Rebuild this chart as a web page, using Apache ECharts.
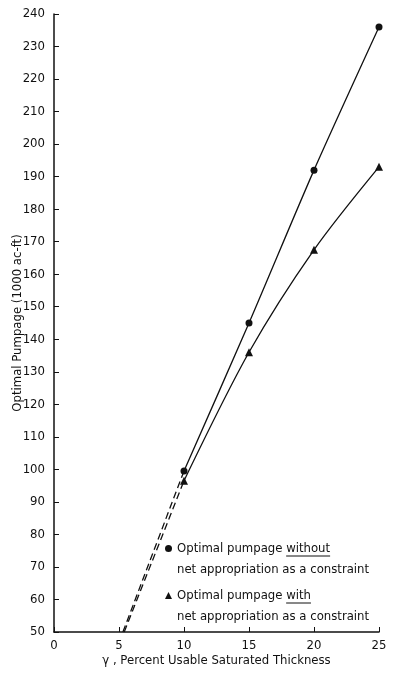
<!DOCTYPE html>
<html>
<head>
<meta charset="utf-8">
<script src="https://cdn.jsdelivr.net/npm/echarts@6/dist/echarts.min.js"></script>
<style>
html,body{margin:0;padding:0;background:#fff;}
#c{width:400px;height:676px;}
</style>
</head>
<body>
<div id="c"></div>
<script>
// ---- data ----
var xTicks = [0, 5, 10, 15, 20, 25];
var yTicks = [50, 60, 70, 80, 90, 100, 110, 120, 130, 140, 150, 160, 170, 180, 190, 200, 210, 220, 230, 240];
var gammaX = [10, 15, 20, 25];
var pumpWithout = [99.5, 145, 192, 236];
var pumpWith = [96.5, 136, 167.5, 193];
var extWithoutX = [5.3, 10];
var extWithoutY = [50, 99.5];
var extWithX = [5.4, 10];
var extWithY = [50, 96.5];
var nameWithout = 'Optimal pumpage without\nnet appropriation as a constraint';
var nameWith = 'Optimal pumpage with\nnet appropriation as a constraint';

var FONT = '"DejaVu Sans Condensed", sans-serif';
var FS = 13;
function pairs(xs, ys) { return xs.map(function (x, i) { return [x, ys[i]]; }); }

var chart = echarts.init(document.getElementById('c'), null, {renderer: 'canvas'});

// measure text for underlines
var cv = document.createElement('canvas').getContext('2d');
cv.font = FS + 'px ' + FONT;
var legLeft = 165, textStart = legLeft + 7 + 5;
function underline(prefix, word, y) {
  var x0 = textStart + cv.measureText(prefix).width;
  var x1 = x0 + cv.measureText(word).width;
  return {type: 'line', shape: {x1: x0, y1: y, x2: x1, y2: y}, style: {stroke: '#111', lineWidth: 1}, z: 10};
}

var option = {
  backgroundColor: '#fff',
  animation: false,
  textStyle: {fontFamily: FONT},
  grid: {left: 54, right: 21, top: 14, bottom: 44, containLabel: false, outerBoundsMode: 'none'},
  xAxis: {
    type: 'value', min: 0, max: 25, interval: 5,
    name: 'γ , Percent Usable Saturated Thickness',
    nameLocation: 'middle', nameGap: 22, nameMoveOverlap: false,
    nameTextStyle: {fontSize: FS, color: '#111', fontFamily: FONT},
    axisLine: {show: true, onZero: false, lineStyle: {color: '#111', width: 1.5}},
    axisTick: {show: true, inside: true, length: 5, lineStyle: {color: '#111'}},
    axisLabel: {fontSize: FS, color: '#111', fontFamily: FONT, margin: 7,
      formatter: function (v) { return xTicks.indexOf(v) >= 0 ? String(v) : ''; }},
    splitLine: {show: false}
  },
  yAxis: {
    type: 'value', min: 50, max: 240, interval: 10,
    name: 'Optimal Pumpage (1000 ac-ft)',
    nameLocation: 'middle', nameGap: 30, nameMoveOverlap: false,
    nameTextStyle: {fontSize: FS, color: '#111', fontFamily: FONT},
    axisLine: {show: true, lineStyle: {color: '#111', width: 1.5}},
    axisTick: {show: true, inside: true, length: 5, lineStyle: {color: '#111'}},
    axisLabel: {fontSize: FS, color: '#111', fontFamily: FONT, margin: 9,
      formatter: function (v) { return yTicks.indexOf(v) >= 0 ? String(v) : ''; }},
    splitLine: {show: false}
  },
  legend: {
    orient: 'vertical', left: legLeft, top: 517, padding: 0, itemGap: -16,
    itemWidth: 7, itemHeight: 7,
    data: [{name: nameWithout, icon: 'circle'}, {name: nameWith, icon: 'triangle'}],
    formatter: function (n) { return '\n' + n; },
    textStyle: {fontSize: FS, color: '#111', fontFamily: FONT, lineHeight: 21},
    itemStyle: {color: '#111'}
  },
  series: [
    {name: nameWithout, type: 'line', data: pairs(gammaX, pumpWithout), smooth: 0.25,
      symbol: 'circle', symbolSize: 7, itemStyle: {color: '#111'}, lineStyle: {color: '#111', width: 1.3}},
    {name: nameWith, type: 'line', data: pairs(gammaX, pumpWith), smooth: 0.3,
      symbol: 'triangle', symbolSize: 8, itemStyle: {color: '#111'}, lineStyle: {color: '#111', width: 1.3}},
    {name: 'extWithout', type: 'line', data: pairs(extWithoutX, extWithoutY), symbol: 'none',
      lineStyle: {color: '#111', width: 1.3, type: [7, 4]}, z: 1},
    {name: 'extWith', type: 'line', data: pairs(extWithX, extWithY), symbol: 'none',
      lineStyle: {color: '#111', width: 1.3, type: [7, 4]}, z: 1}
  ],
  graphic: [
    underline('Optimal pumpage ', 'without', 556),
    underline('Optimal pumpage ', 'with', 603)
  ]
};
chart.setOption(option);
</script>
</body>
</html>
